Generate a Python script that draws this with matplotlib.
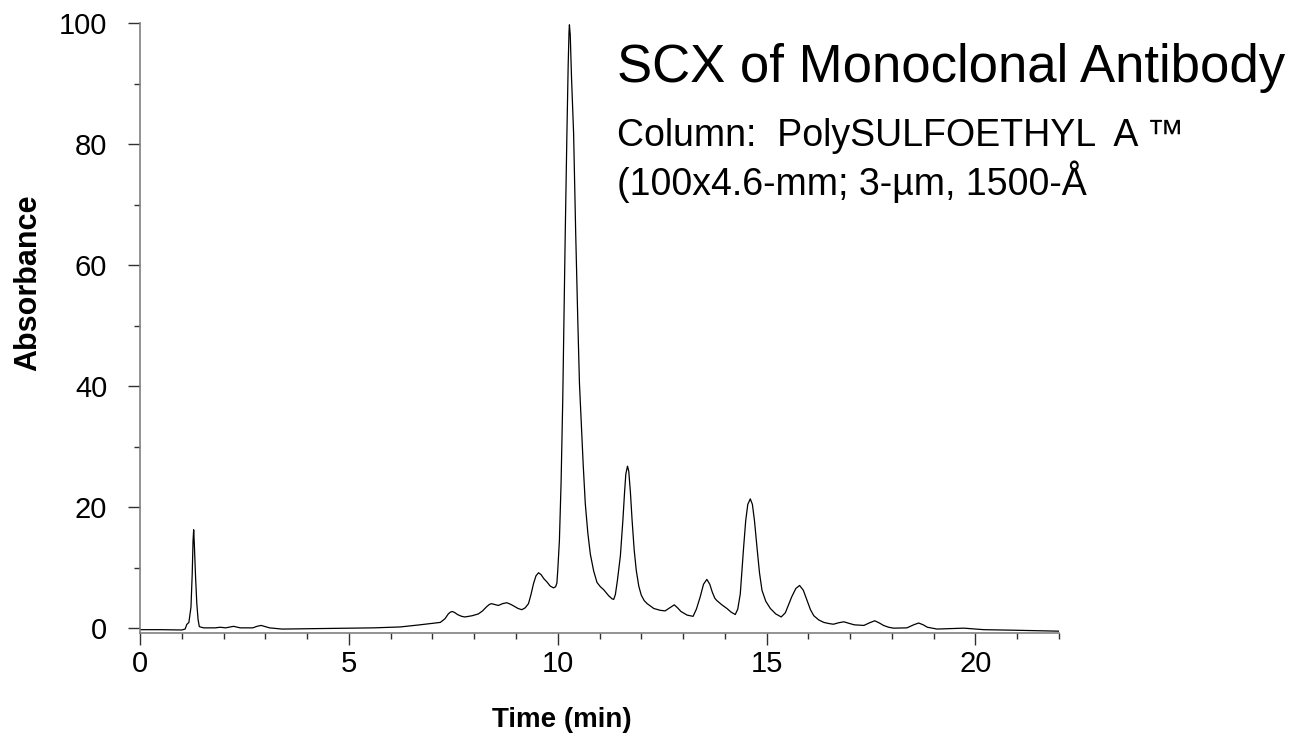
import matplotlib
matplotlib.use("Agg")
import matplotlib.pyplot as plt
from matplotlib.ticker import MultipleLocator

plt.rcParams['font.family'] = ['Liberation Sans', 'DejaVu Sans']

# chromatogram trace (time in min, absorbance)
tiempo = [
    0.0, 0.5, 1.0, 1.08, 1.12, 1.17, 1.22, 1.25, 1.27, 1.285, 1.3, 1.33, 1.36,
    1.39, 1.42, 1.52, 1.8, 1.92, 2.05, 2.24, 2.4, 2.7, 2.8, 2.9, 3.0, 3.1, 3.4,
    4.0, 5.0, 5.6, 6.23, 6.7, 7.19, 7.3, 7.38, 7.43, 7.48, 7.54, 7.6, 7.7, 7.78,
    7.95, 8.1, 8.2, 8.3, 8.36, 8.41, 8.5, 8.58, 8.68, 8.78, 8.87, 8.95, 9.05,
    9.14, 9.22, 9.3, 9.36, 9.42, 9.48, 9.54, 9.6, 9.67, 9.74, 9.82, 9.9, 9.95,
    9.98, 10.0, 10.04, 10.08, 10.12, 10.15, 10.18, 10.22, 10.25, 10.27, 10.28,
    10.3, 10.33, 10.38, 10.43, 10.48, 10.52, 10.56, 10.61, 10.66, 10.72, 10.78,
    10.86, 10.94, 11.02, 11.1, 11.22, 11.3, 11.34, 11.38, 11.43, 11.5, 11.56,
    11.6, 11.63, 11.67, 11.7, 11.74, 11.78, 11.83, 11.88, 11.94, 12.0, 12.07,
    12.14, 12.3, 12.45, 12.57, 12.68, 12.79, 12.87, 12.95, 13.1, 13.24, 13.32,
    13.41, 13.49, 13.57, 13.64, 13.7, 13.76, 13.81, 13.93, 14.05, 14.15, 14.25,
    14.31, 14.37, 14.45, 14.5, 14.55, 14.61, 14.66, 14.71, 14.77, 14.83, 14.89,
    14.98, 15.09, 15.22, 15.35, 15.45, 15.53, 15.6, 15.7, 15.79, 15.88, 15.97,
    16.05, 16.13, 16.25, 16.37, 16.5, 16.6, 16.73, 16.85, 16.97, 17.1, 17.33,
    17.47, 17.59, 17.7, 17.8, 17.92, 18.04, 18.36, 18.52, 18.64, 18.75, 18.85,
    19.08, 19.72, 20.2, 21.0, 22.0,
]
absorbancia = [
    -0.2, -0.2, -0.25, -0.1, 0.66, 1.0, 3.5, 9.0, 14.5, 16.3, 14.0, 8.5, 4.1,
    1.5, 0.3, 0.1, 0.1, 0.2, 0.1, 0.35, 0.1, 0.1, 0.35, 0.5, 0.3, 0.1, -0.1,
    -0.05, 0.05, 0.1, 0.25, 0.6, 1.0, 1.6, 2.4, 2.7, 2.8, 2.6, 2.3, 2.0, 1.9,
    2.1, 2.4, 2.9, 3.6, 3.95, 4.1, 3.95, 3.8, 4.1, 4.25, 4.0, 3.7, 3.3,
    3.1, 3.4, 4.1, 5.6, 7.4, 8.7, 9.2, 8.9, 8.2, 7.7, 7.0, 6.7, 6.9,
    7.5, 9.5, 14.5, 24.0, 37.7, 52.0, 65.3, 81.8, 93.0, 98.5, 99.7,
    98.0, 91.0, 81.8, 65.3, 51.0, 40.5, 34.4, 27.0, 20.6, 15.8, 12.3,
    9.5, 7.6, 6.9, 6.4, 5.4, 4.9, 4.8, 5.6, 8.0, 12.0, 17.9,
    22.5, 25.5, 26.8, 26.0, 22.5, 17.9, 13.0, 9.6, 7.0, 5.5, 4.6,
    4.1, 3.3, 3.0, 2.9, 3.4, 3.9, 3.4, 2.8, 2.2, 2.0, 3.2,
    5.2, 7.3, 8.1, 7.3, 6.0, 5.0, 4.6, 3.9, 3.3, 2.7, 2.3,
    3.2, 5.7, 13.4, 17.8, 20.5, 21.4, 20.5, 17.8, 13.4, 9.2, 6.3,
    4.5, 3.3, 2.4, 1.9, 2.6, 4.0, 5.2, 6.6, 7.1, 6.3, 4.6,
    3.1, 2.1, 1.4, 1.0, 0.8, 0.7, 0.95, 1.1, 0.85, 0.6, 0.5,
    0.95, 1.27, 0.9, 0.5, 0.2, 0.05, 0.1, 0.6, 0.9, 0.6, 0.2,
    -0.1, 0.05, -0.2, -0.3, -0.45,
]

x_ticks = [0, 5, 10, 15, 20]
y_ticks = [0, 20, 40, 60, 80, 100]

W, H = 1293, 737
fig = plt.figure(figsize=(W / 100, H / 100), dpi=100)
ax = fig.add_axes([140 / W, (H - 633) / H, 919 / W, 610 / H])

ax.plot(tiempo, absorbancia, color='black', linewidth=0.9)

ax.set_xlim(0, 22)
ax.set_ylim(-0.75, 100)
ax.set_xticks(x_ticks)
ax.set_yticks(y_ticks)
ax.xaxis.set_minor_locator(MultipleLocator(1))
ax.yaxis.set_minor_locator(MultipleLocator(10))

for s in ['top', 'right']:
    ax.spines[s].set_visible(False)
for s in ['left', 'bottom']:
    ax.spines[s].set_color('#808080')
    ax.spines[s].set_linewidth(1.2)

ax.tick_params(axis='both', which='major', direction='out', length=8.6,
               width=1.0, color='#303030', labelsize=21)
ax.tick_params(axis='both', which='minor', direction='out', length=4.3,
               width=1.0, color='#303030')
ax.tick_params(axis='y', which='major', pad=15)
ax.tick_params(axis='x', which='major', pad=4)

fig.text(562 / W, (H - 720) / H, 'Time (min)', fontsize=20, fontweight='bold',
         ha='center', va='center')
fig.text(28 / W, (H - 283) / H, 'Absorbance', fontsize=22, fontweight='bold',
         ha='center', va='center', rotation=90)

fig.text(617 / W, (H - 82) / H, 'SCX of Monoclonal Antibody', fontsize=38,
         ha='left', va='baseline')
fig.text(617 / W, (H - 146.5) / H, 'Column:  PolySULFOETHYL  A \u2122',
         fontsize=27, ha='left', va='baseline')
fig.text(617 / W, (H - 195) / H, '(100x4.6-mm; 3-\u00b5m, 1500-\u00c5',
         fontsize=27, ha='left', va='baseline')

fig.savefig('out.png', dpi=100)
